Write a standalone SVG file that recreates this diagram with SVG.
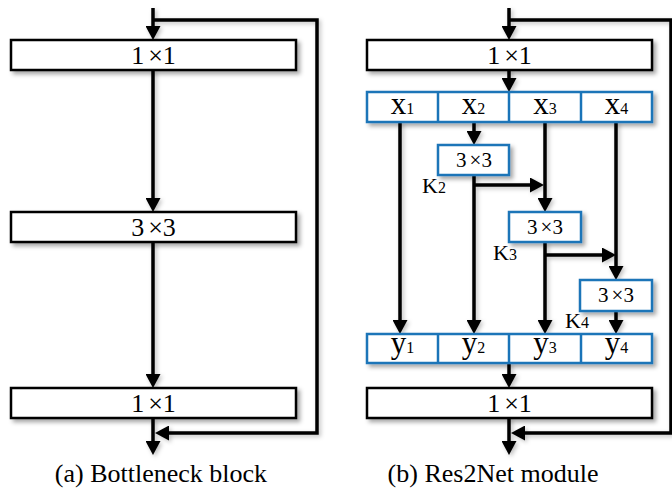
<svg xmlns="http://www.w3.org/2000/svg" width="672" height="490" viewBox="0 0 672 490">
<defs>
<filter id="sh" x="-10%" y="-30%" width="130%" height="180%">
<feDropShadow dx="3" dy="3" stdDeviation="2" flood-color="#000" flood-opacity="0.35"/>
</filter>
<filter id="lsh" x="-20%" y="-20%" width="140%" height="140%">
<feDropShadow dx="2" dy="2" stdDeviation="2" flood-color="#000" flood-opacity="0.25"/>
</filter>
<marker id="ah" markerUnits="userSpaceOnUse" markerWidth="15" markerHeight="15" refX="4" refY="7.5" orient="auto">
<path d="M0,0 L14,7.5 L0,15 z" fill="#000"/>
</marker>
</defs>
<style>
.bk{fill:#fff;stroke:#000;stroke-width:2.5}
.bl{fill:#fff;stroke:#1a74b8;stroke-width:2.5}
.ca{fill:none;stroke:#000;stroke-width:3.5;marker-end:url(#ah)}
text{font-family:"Liberation Serif","DejaVu Serif","Times New Roman",serif;fill:#000}
.t{text-anchor:middle}
.big{font-size:26px}
.sm{font-size:21px}
.var{font-size:31px}
.sub{font-size:16px}
.k{font-size:22px}
.cap{font-size:26px}
</style>

<g id="connectors" filter="url(#lsh)">
<path class="ca" d="M153,8 V30"/>
<path class="ca" d="M153,20 H317 V433 H165"/>
<path class="ca" d="M153,70 V202"/>
<path class="ca" d="M153,242 V378"/>
<path class="ca" d="M153,419 V445"/>
<path class="ca" d="M509,8 V30"/>
<path class="ca" d="M509,20 H671 V433 H521"/>
<path class="ca" d="M509,70 V82"/>
<path class="ca" d="M400,122 V324"/>
<path class="ca" d="M474,122 V135"/>
<path class="ca" d="M474,175 V324"/>
<path class="ca" d="M474,185 H534"/>
<path class="ca" d="M545,122 V202"/>
<path class="ca" d="M545,242 V324"/>
<path class="ca" d="M545,255 H606"/>
<path class="ca" d="M616,122 V270"/>
<path class="ca" d="M616,311 V324"/>
<path class="ca" d="M509,363 V378"/>
<path class="ca" d="M509,418 V445"/>
</g>

<g id="a-conv1">
<rect class="bk" x="11" y="40" width="285" height="30" filter="url(#sh)"/>
<text class="t big" x="153.5" y="64">1<tspan dx="4">×</tspan>1</text>
</g>
<g id="a-conv3">
<rect class="bk" x="11" y="212" width="285" height="30" filter="url(#sh)"/>
<text class="t big" x="153.5" y="236">3<tspan dx="4">×</tspan>3</text>
</g>
<g id="a-conv1b">
<rect class="bk" x="11" y="388" width="285" height="30" filter="url(#sh)"/>
<text class="t big" x="153.5" y="412">1<tspan dx="4">×</tspan>1</text>
</g>

<g id="b-conv1">
<rect class="bk" x="367" y="40" width="285" height="30" filter="url(#sh)"/>
<text class="t big" x="509.5" y="64">1<tspan dx="4">×</tspan>1</text>
</g>
<g id="b-xrow">
<rect class="bl" x="367" y="92" width="285" height="30" filter="url(#sh)"/>
<line x1="438" y1="92" x2="438" y2="122" stroke="#1a74b8" stroke-width="2.5"/>
<line x1="509" y1="92" x2="509" y2="122" stroke="#1a74b8" stroke-width="2.5"/>
<line x1="581" y1="92" x2="581" y2="122" stroke="#1a74b8" stroke-width="2.5"/>
<text class="t var" x="402.5" y="114">x<tspan class="sub">1</tspan></text>
<text class="t var" x="473.5" y="114">x<tspan class="sub">2</tspan></text>
<text class="t var" x="545" y="114">x<tspan class="sub">3</tspan></text>
<text class="t var" x="616.5" y="114">x<tspan class="sub">4</tspan></text>
</g>
<g id="b-k2">
<rect class="bl" x="438" y="145" width="71" height="30" filter="url(#sh)"/>
<text class="t sm" x="474" y="167">3<tspan dx="3">×</tspan>3</text>
<text class="k" x="422" y="193">K<tspan class="sub">2</tspan></text>
</g>
<g id="b-k3">
<rect class="bl" x="509" y="212" width="72" height="30" filter="url(#sh)"/>
<text class="t sm" x="545" y="234">3<tspan dx="3">×</tspan>3</text>
<text class="k" x="493" y="260">K<tspan class="sub">3</tspan></text>
</g>
<g id="b-k4">
<rect class="bl" x="580" y="280" width="72" height="31" filter="url(#sh)"/>
<text class="t sm" x="616" y="302">3<tspan dx="3">×</tspan>3</text>
<text class="k" x="565" y="328">K<tspan class="sub">4</tspan></text>
</g>
<g id="b-yrow">
<rect class="bl" x="367" y="334" width="285" height="29" filter="url(#sh)"/>
<line x1="438" y1="334" x2="438" y2="363" stroke="#1a74b8" stroke-width="2.5"/>
<line x1="509" y1="334" x2="509" y2="363" stroke="#1a74b8" stroke-width="2.5"/>
<line x1="581" y1="334" x2="581" y2="363" stroke="#1a74b8" stroke-width="2.5"/>
<text class="t var" x="402.5" y="353">y<tspan class="sub">1</tspan></text>
<text class="t var" x="473.5" y="353">y<tspan class="sub">2</tspan></text>
<text class="t var" x="545" y="353">y<tspan class="sub">3</tspan></text>
<text class="t var" x="616.5" y="353">y<tspan class="sub">4</tspan></text>
</g>
<g id="b-conv1b">
<rect class="bk" x="367" y="388" width="285" height="30" filter="url(#sh)"/>
<text class="t big" x="509.5" y="412">1<tspan dx="4">×</tspan>1</text>
</g>

<g id="captions">
<text class="t cap" x="161" y="482">(a) Bottleneck block</text>
<text class="t cap" x="493" y="482">(b) Res2Net module</text>
</g>
</svg>
